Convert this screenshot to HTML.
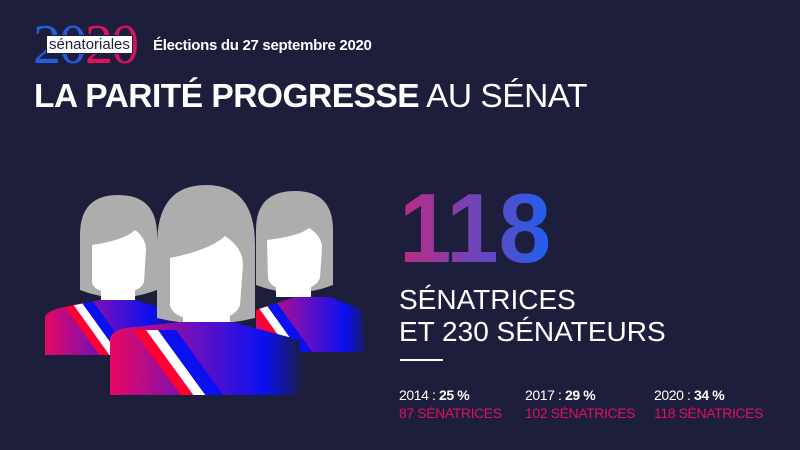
<!DOCTYPE html>
<html><head><meta charset="utf-8"><style>
body{margin:0;width:800px;height:450px;background:#1c1e3c;overflow:hidden;font-family:"Liberation Sans",sans-serif;position:relative}
.a{position:absolute;white-space:nowrap}
</style></head><body>
<div class="a" style="left:33px;top:17px;font-family:'Liberation Serif',serif;font-size:56px;line-height:56px;letter-spacing:-2px"><span style="color:#1f5fe0">2</span><span style="color:#2a58d8">0</span><span style="color:#e0115f">2</span><span style="color:#d0155a">0</span></div>
<div class="a" style="left:46px;top:35px;background:#fff;color:#1c1e3c;font-size:15px;line-height:15px;padding:1px 2px;border:1px solid #1c1e3c">sénatoriales</div>
<div class="a" style="left:153px;top:37px;color:#fff;font-size:15px;font-weight:bold;letter-spacing:-0.3px">Élections du 27 septembre 2020</div>
<div class="a" style="left:34px;top:78px;color:#fff;font-size:33.5px;letter-spacing:-0.5px"><b>LA PARITÉ PROGRESSE</b> AU SÉNAT</div>

<svg class="a" style="left:0;top:0" width="400" height="450">
<defs>
<linearGradient id="bg" x1="0" x2="1"><stop offset="0" stop-color="#f0085a"/><stop offset="0.45" stop-color="#6a10c0"/><stop offset="0.8" stop-color="#0a10f0"/><stop offset="1" stop-color="#1c1e3c"/></linearGradient>
<clipPath id="c1"><path d="M45,318 Q45,312 60,308 L100,300 L135,300 L175,312 L175,355 L45,355Z"/></clipPath>
<clipPath id="c2"><path d="M256,310 L295,297 L330,297 L362,310 L365,352 L256,352Z"/></clipPath>
<clipPath id="c3"><path d="M110,340 Q110,332 125,328 L180,322 L232,322 L300,340 L300,395 L110,395Z"/></clipPath>
</defs>
<g>
<path d="M80,290 L80,235 Q80,195 118,195 Q157,195 157,235 L157,290 Q118,305 80,290Z" fill="#adadad"/>
<path d="M92,245 Q125,240 135,230 Q146,238 146,250 L144,282 Q140,293 117,293 Q94,293 92,282Z" fill="#fff"/>
<rect x="101" y="288" width="34" height="12" fill="#fff"/>
<g clip-path="url(#c1)"><rect x="40" y="295" width="140" height="65" fill="url(#bg)"/>
<path d="M60,300 L70,300 L113,360 L103,360Z" fill="#ff0033"/><path d="M70,300 L80,300 L123,360 L113,360Z" fill="#fff"/><path d="M80,300 L92,300 L135,360 L123,360Z" fill="#0a10f0"/></g>
</g>
<g>
<path d="M256,285 L256,230 Q256,191 295,191 Q333,191 333,230 L333,285 Q295,300 256,285Z" fill="#adadad"/>
<path d="M267,240 Q300,236 309,228 Q322,236 322,248 L320,278 Q315,290 294,290 Q270,290 268,278Z" fill="#fff"/>
<rect x="276" y="285" width="35" height="12" fill="#fff"/>
<g clip-path="url(#c2)"><rect x="250" y="292" width="120" height="65" fill="url(#bg)"/>
<path d="M243,300 L253,300 L296,360 L286,360Z" fill="#ff0033"/><path d="M253,300 L263,300 L306,360 L296,360Z" fill="#fff"/><path d="M263,300 L275,300 L318,360 L306,360Z" fill="#0a10f0"/></g>
</g>
<g>
<path d="M157,318 L157,245 Q157,185 206,185 Q255,185 255,245 L255,318 Q206,330 157,318Z" fill="#adadad"/>
<path d="M170,258 Q210,250 225,236 Q243,248 243,265 L240,305 Q235,320 206,320 Q173,320 170,305Z" fill="#fff"/>
<rect x="183" y="312" width="47" height="12" fill="#fff"/>
<g clip-path="url(#c3)"><rect x="105" y="318" width="200" height="80" fill="url(#bg)"/>
<path d="M133,330 L146,330 L197,400 L184,400Z" fill="#ff0033"/><path d="M146,330 L158,330 L209,400 L197,400Z" fill="#fff"/><path d="M158,330 L176,330 L227,400 L209,400Z" fill="#0a10f0"/></g>
</g>
</svg>

<svg class="a" style="left:395px;top:180px" width="180" height="90">
<defs><linearGradient id="ng" x1="0" x2="1"><stop offset="0" stop-color="#c02a80"/><stop offset="1" stop-color="#1f5ff0"/></linearGradient></defs>
<text x="4" y="82" font-family="Liberation Sans, sans-serif" font-weight="bold" font-size="98" fill="url(#ng)" textLength="152" lengthAdjust="spacingAndGlyphs">118</text>
</svg>
<div class="a" style="left:399px;top:284px;color:#fff;font-size:28px;line-height:32px">SÉNATRICES<br>ET 230 SÉNATEURS</div>
<div class="a" style="left:400px;top:359px;width:43px;height:2px;background:#fff"></div>
<div class="a" style="left:399px;top:386px;font-size:14px;letter-spacing:-0.4px;line-height:18px;color:#fff">2014 : <b>25 %</b><br><span style="color:#e0115f">87 SÉNATRICES</span></div>
<div class="a" style="left:525px;top:386px;font-size:14px;letter-spacing:-0.4px;line-height:18px;color:#fff">2017 : <b>29 %</b><br><span style="color:#e0115f">102 SÉNATRICES</span></div>
<div class="a" style="left:654px;top:386px;font-size:14px;letter-spacing:-0.4px;line-height:18px;color:#fff">2020 : <b>34 %</b><br><span style="color:#e0115f">118 SÉNATRICES</span></div>
</body></html>
